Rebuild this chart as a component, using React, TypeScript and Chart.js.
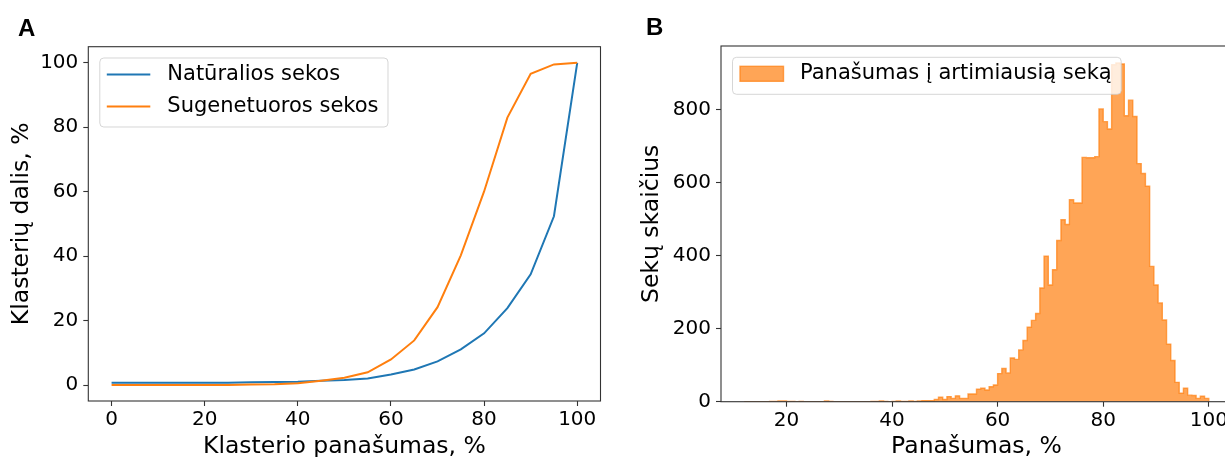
import React, { useEffect, useRef } from 'react';
import { Chart, registerables } from 'chart.js';

Chart.register(...registerables);

const FONT = "'DejaVu Sans', 'Liberation Sans', sans-serif";
const LETTER_FONT = "bold 24px 'Liberation Sans', Arial, sans-serif";
const TEXT = '#000000';
const SPINE = '#333333';
const BLUE = '#1f77b4';
const ORANGE = '#ff7f0e';
const ORANGE_ALPHA = 'rgba(255, 127, 14, 0.7)';

// Panel A: share of clusters (%) by cluster similarity threshold (%)
const similarity = [0, 5, 10, 15, 20, 25, 30, 35, 40, 45, 50, 55, 60, 65, 70, 75, 80, 85, 90, 95, 100];
const naturalShare = [0.8, 0.8, 0.8, 0.8, 0.8, 0.8, 0.9, 1.0, 1.1, 1.4, 1.6, 2.1, 3.3, 4.9, 7.4, 11.1, 16.1, 23.9, 34.4, 52.4, 100];
const generatedShare = [0.1, 0.1, 0.1, 0.1, 0.1, 0.1, 0.2, 0.3, 0.6, 1.4, 2.3, 4.0, 8.0, 13.9, 24.2, 40.3, 60.1, 83.0, 96.6, 99.5, 100];
const similarityTicks = [0, 20, 40, 60, 80, 100];
const shareTicks = [0, 20, 40, 60, 80, 100];

// Panel B: histogram of similarity to the nearest sequence
const binStart = 12;
const binWidth = 0.8;
const binCounts = [
  0, 0, 0, 0, 0, 0, 1, 1, 2, 2,
  1, 1, 0, 1, 0, 0, 0, 0, 0, 2,
  1, 0, 0, 0, 0, 0, 0, 0, 0, 0,
  1, 1, 2, 1, 0, 1, 2, 1, 1, 2,
  1, 2, 3, 3, 3, 6, 12, 6, 14, 9,
  16, 9, 9, 21, 21, 34, 37, 32, 41, 46,
  77, 91, 79, 120, 116, 142, 168, 204, 223, 242,
  312, 399, 320, 362, 442, 499, 486, 554, 545, 545,
  670, 669, 669, 672, 803, 768, 748, 924, 929, 926,
  784, 827, 782, 653, 626, 591, 371, 320, 271, 224,
  158, 113, 53, 23, 37, 18, 17, 9, 15, 9,
];
const percentTicks = [20, 40, 60, 80, 100];
const countTicks = [0, 200, 400, 600, 800];

// Data range widened by 5% on each side
function paddedRange(values: number[]): [number, number] {
  const lo = Math.min(...values);
  const hi = Math.max(...values);
  const m = (hi - lo) * 0.05;
  return [lo - m, hi + m];
}

// Closed step outline of the histogram (left edge of each bin carries its count)
function histogramOutline() {
  const pts = [{ x: binStart, y: 0 }];
  binCounts.forEach((c, i) => pts.push({ x: binStart + i * binWidth, y: c }));
  const end = binStart + binCounts.length * binWidth;
  pts.push({ x: end, y: binCounts[binCounts.length - 1] });
  pts.push({ x: end, y: 0 });
  return pts;
}

// Frame, boxed legend and panel letter
const panelDecor = {
  id: 'panelDecor',
  afterDraw(chart: any, _args: any, opts: any) {
    const { ctx, chartArea: a } = chart;
    ctx.save();

    ctx.strokeStyle = SPINE;
    ctx.lineWidth = 1.1;
    ctx.strokeRect(a.left, a.top, a.right - a.left, a.bottom - a.top);

    const items = chart.data.datasets.map((ds: any) => ({
      label: ds.label,
      stroke: ds.borderColor,
      fill: ds.backgroundColor,
      patch: !!ds.fill,
    }));
    const fs = 21;
    ctx.font = `${fs}px ${FONT}`;
    const textW = Math.max(...items.map((it: any) => ctx.measureText(it.label).width));
    const lx = a.left + 11;
    const ly = a.top + 10.8;
    const lw = 68 + textW + 9;
    const lh = 37 + 32 * (items.length - 1);
    ctx.beginPath();
    if (ctx.roundRect) ctx.roundRect(lx + 0.5, ly + 0.5, lw, lh, 4);
    else ctx.rect(lx + 0.5, ly + 0.5, lw, lh);
    ctx.fillStyle = 'rgba(255, 255, 255, 0.8)';
    ctx.fill();
    ctx.strokeStyle = 'rgba(204, 204, 204, 0.8)';
    ctx.lineWidth = 1;
    ctx.stroke();

    items.forEach((it: any, i: number) => {
      const cy = ly + 17 + 32 * i;
      if (it.patch) {
        ctx.fillStyle = it.fill;
        ctx.fillRect(lx + 8, cy - 7.5, 43.5, 15);
        ctx.strokeStyle = it.stroke;
        ctx.lineWidth = 1.4;
        ctx.strokeRect(lx + 8, cy - 7.5, 43.5, 15);
      } else {
        ctx.strokeStyle = it.stroke;
        ctx.lineWidth = 2;
        ctx.beginPath();
        ctx.moveTo(lx + 7.5, cy);
        ctx.lineTo(lx + 51, cy);
        ctx.stroke();
      }
      ctx.font = `${fs}px ${FONT}`;
      ctx.fillStyle = TEXT;
      ctx.textAlign = 'left';
      ctx.textBaseline = 'middle';
      ctx.fillText(it.label, lx + 68, cy);
    });

    ctx.font = LETTER_FONT;
    ctx.fillStyle = TEXT;
    ctx.textAlign = 'left';
    ctx.textBaseline = 'alphabetic';
    ctx.fillText(opts.letter, opts.letterX, opts.letterY);
    ctx.restore();
  },
};

function tickGrid() {
  return {
    display: true,
    drawOnChartArea: false,
    drawTicks: true,
    tickLength: 5,
    tickColor: SPINE,
    tickWidth: 1.1,
  };
}

function xAxis(range: [number, number], ticks: number[], title: string, height: number) {
  return {
    type: 'linear',
    min: range[0],
    max: range[1],
    afterBuildTicks: (s: any) => {
      s.ticks = ticks.map((v) => ({ value: v }));
    },
    afterFit: (s: any) => {
      s.height = height;
    },
    grid: tickGrid(),
    border: { display: false },
    ticks: { color: TEXT, font: { family: FONT, size: 20 }, padding: 2, maxRotation: 0, autoSkip: false },
    title: {
      display: true,
      text: title,
      color: TEXT,
      font: { family: FONT, size: 23.5, lineHeight: 0.82 },
      padding: { top: 0, bottom: 0 },
    },
  };
}

function yAxis(range: [number, number], ticks: number[], title: string, width: number, titlePad: number) {
  return {
    type: 'linear',
    min: range[0],
    max: range[1],
    afterBuildTicks: (s: any) => {
      s.ticks = ticks.map((v) => ({ value: v }));
    },
    afterFit: (s: any) => {
      s.width = width;
    },
    grid: tickGrid(),
    border: { display: false },
    ticks: { color: TEXT, font: { family: FONT, size: 20 }, padding: 5, autoSkip: false },
    title: {
      display: true,
      text: title,
      color: TEXT,
      font: { family: FONT, size: 23.5, lineHeight: 0.82 },
      padding: { top: titlePad, bottom: 0 },
    },
  };
}

function clusterShareConfig(): any {
  const xr = paddedRange(similarity);
  const yr = paddedRange([...naturalShare, ...generatedShare]);
  return {
    type: 'line',
    data: {
      datasets: [
        {
          label: 'Natūralios sekos',
          data: similarity.map((x, i) => ({ x, y: naturalShare[i] })),
          borderColor: BLUE,
          backgroundColor: BLUE,
          borderWidth: 2,
          pointRadius: 0,
          fill: false,
          order: 2,
        },
        {
          label: 'Sugenetuoros sekos',
          data: similarity.map((x, i) => ({ x, y: generatedShare[i] })),
          borderColor: ORANGE,
          backgroundColor: ORANGE,
          borderWidth: 2,
          pointRadius: 0,
          fill: false,
          order: 1,
        },
      ],
    },
    options: {
      responsive: false,
      animation: false,
      devicePixelRatio: 1,
      layout: { padding: { left: 0, top: 46.7, right: 19.5, bottom: 0 } },
      scales: {
        x: xAxis(xr, similarityTicks, 'Klasterio panašumas, %', 56),
        y: yAxis(yr, shareTicks, 'Klasterių dalis, %', 88.3, 12.1),
      },
      plugins: {
        legend: { display: false },
        tooltip: { enabled: false },
        panelDecor: { letter: 'A', letterX: 18, letterY: 35.7 },
      },
    },
    plugins: [panelDecor],
  };
}

function nearestSimilarityConfig(): any {
  const end = binStart + binCounts.length * binWidth;
  const xr = paddedRange([binStart, end]);
  const yr: [number, number] = [0, Math.max(...binCounts) * 1.05];
  return {
    type: 'line',
    data: {
      datasets: [
        {
          label: 'Panašumas į artimiausią seką',
          data: histogramOutline(),
          stepped: 'before',
          fill: 'origin',
          backgroundColor: ORANGE_ALPHA,
          borderColor: ORANGE_ALPHA,
          borderWidth: 1.4,
          pointRadius: 0,
        },
      ],
    },
    options: {
      responsive: false,
      animation: false,
      devicePixelRatio: 1,
      layout: { padding: { left: 0, top: 46, right: 28, bottom: 0 } },
      scales: {
        x: xAxis(xr, percentTicks, 'Panašumas, %', 55.3),
        y: yAxis(yr, countTicks, 'Sekų skaičius', 101, 22.4),
      },
      plugins: {
        legend: { display: false },
        tooltip: { enabled: false },
        panelDecor: { letter: 'B', letterX: 26, letterY: 35 },
      },
    },
    plugins: [panelDecor],
  };
}

export default function App() {
  const refA = useRef<HTMLCanvasElement>(null);
  const refB = useRef<HTMLCanvasElement>(null);

  useEffect(() => {
    const a = new Chart(refA.current as HTMLCanvasElement, clusterShareConfig());
    const b = new Chart(refB.current as HTMLCanvasElement, nearestSimilarityConfig());
    return () => {
      a.destroy();
      b.destroy();
    };
  }, []);

  return (
    <div
      style={{
        position: 'absolute',
        left: 0,
        top: 0,
        width: 1225,
        height: 457,
        overflow: 'hidden',
        background: '#ffffff',
      }}
    >
      <canvas ref={refA} width={620} height={457} style={{ position: 'absolute', left: 0, top: 0 }} />
      <canvas ref={refB} width={640} height={457} style={{ position: 'absolute', left: 620, top: 0 }} />
    </div>
  );
}
